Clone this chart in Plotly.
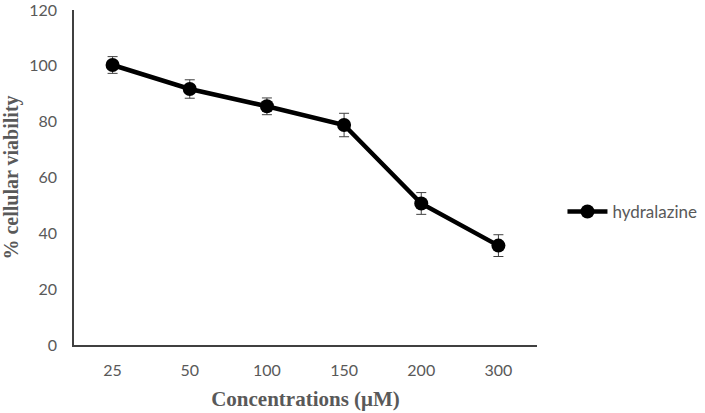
import plotly.graph_objects as go

categories = ["25", "50", "100", "150", "200", "300"]
viability = [100.3, 91.7, 85.5, 78.8, 50.7, 35.6]
errors = [3.0, 3.3, 3.0, 4.2, 3.9, 3.9]
y_ticks = [0, 20, 40, 60, 80, 100, 120]

fig = go.Figure()
fig.add_trace(go.Scatter(
    x=categories, y=viability, name="hydralazine", mode="lines+markers",
    line=dict(color="black", width=4.5),
    marker=dict(color="black", size=14),
    error_y=dict(type="data", array=errors, visible=True, color="#404040", thickness=1, width=5),
))

fig.update_layout(
    width=705, height=413,
    margin=dict(l=74, r=168, t=10, b=68, autoexpand=False),
    paper_bgcolor="white", plot_bgcolor="white",
    showlegend=True,
    legend=dict(x=1.055, y=0.397, xanchor="left", yanchor="middle", itemwidth=40,
                font=dict(family="Lato, Open Sans, sans-serif", size=17, color="#595959"),
                bgcolor="rgba(0,0,0,0)"),
    xaxis=dict(
        type="category", range=[-0.5, len(categories) - 0.5],
        showgrid=False, showline=True, linecolor="#404040", linewidth=1.5,
        automargin=False, ticklabeloverflow="allow",
        ticks="outside", ticklen=10, tickcolor="rgba(0,0,0,0)",
        tickfont=dict(family="Lato, Open Sans, sans-serif", size=16, color="#595959"),
        title=dict(text="<b>Concentrations (μM)</b>", standoff=13,
                   font=dict(family="Liberation Serif, Times New Roman, serif", size=21, color="#595959")),
    ),
    yaxis=dict(
        range=[0, 120], tickvals=y_ticks, showgrid=False, zeroline=False,
        showline=True, linecolor="#404040", linewidth=1.5, automargin=False,
        ticklabeloverflow="allow",
        ticks="outside", ticklen=12, tickcolor="rgba(0,0,0,0)",
        tickfont=dict(family="Lato, Open Sans, sans-serif", size=16, color="#595959"),
        title=dict(text="<b>% cellular viability</b>", standoff=8,
                   font=dict(family="Liberation Serif, Times New Roman, serif", size=20, color="#595959")),
    ),
)

fig.write_html("out.html", config={"displayModeBar": False},
               post_script="document.body.style.margin='0px';")
